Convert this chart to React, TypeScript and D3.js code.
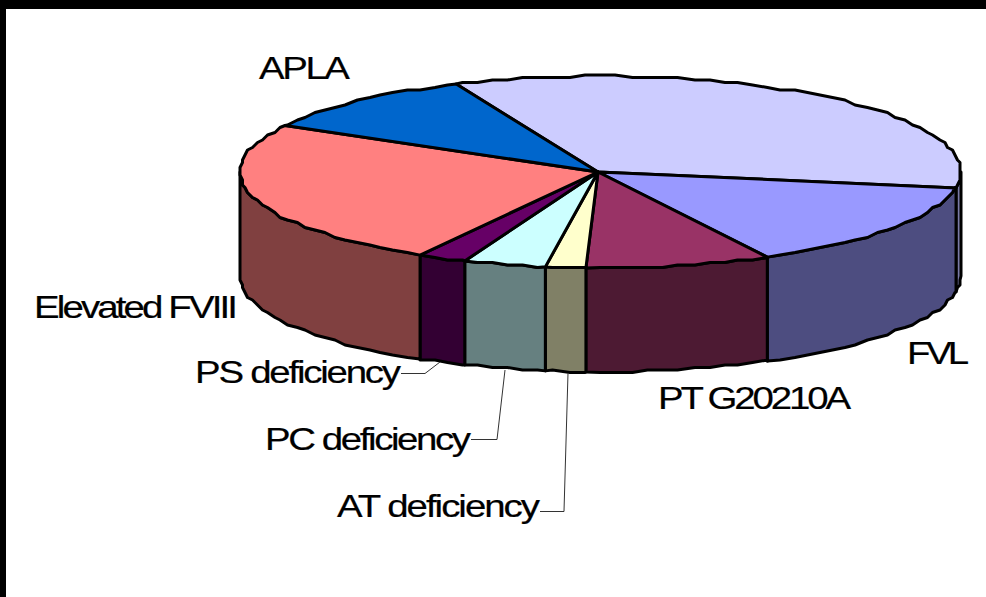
import React from "react";
import * as d3 from "d3";

const categories = ["", "FVL", "PT G20210A", "AT deficiency", "PC deficiency", "PS deficiency", "Elevated FVIII", "APLA"];
const values = [34.2, 14.7, 8.3, 1.8, 3.7, 2.2, 24.7, 10.4];
const topColors = ["#CCCCFF", "#9999FF", "#993366", "#FFFFCC", "#CCFFFF", "#660066", "#FF8080", "#0066CC"];
const sideColors = ["#7A7AA6", "#4D4D80", "#4D1A33", "#808066", "#668080", "#330033", "#804040", "#003366"];

const W = 986, H = 597;
const cx = 600.5, cy = 172, rx = 360.5, ry = 96, depth = 104;
const apexX = 598;
const START = (336.4 * Math.PI) / 180;
const STEP = (2.5 * Math.PI) / 180;
const GRID = 2.5;
const STRETCH = 1.2;

const labelLayout: Record<string, [number, number, number]> = {
  "APLA": [259, 79, 91],
  "Elevated FVIII": [34, 318, 204],
  "FVL": [907, 364, 62],
  "PT G20210A": [658, 409, 193],
  "PS deficiency": [195, 383, 206],
  "PC deficiency": [265, 450, 206],
  "AT deficiency": [337, 517, 203],
};
const leaders: Record<string, [number, number][]> = {
  "PS deficiency": [[401, 373.5], [425, 373.5], [440, 362]],
  "PC deficiency": [[471, 439.5], [497, 439.5], [505, 370]],
  "AT deficiency": [[540, 511.5], [564, 511.5], [568, 373]],
};

const pt = (t: number, dy = 0): [number, number] => [cx + rx * Math.sin(t), cy - ry * Math.cos(t) + dy];
const snap = (v: number) => Math.round(v / GRID) * GRID;
const line = d3.line<[number, number]>();
// Rim between two angles, on the coarse pixel grid that gives the outline its stepped look
const sample = (a: number, b: number, dy = 0): [number, number][] => {
  const lo = Math.min(a, b), hi = Math.max(a, b);
  const inner = d3.range(Math.ceil(lo / STEP + 1e-6), Math.floor(hi / STEP - 1e-6) + 1).map((k) => {
    const [x, y] = pt(k * STEP, dy);
    return [snap(x), snap(y)] as [number, number];
  });
  const pts = [pt(lo, dy), ...inner, pt(hi, dy)];
  return a <= b ? pts : pts.reverse();
};

export default function App() {
  const arcs = d3.pie<number>().sort(null).startAngle(START).endAngle(START + 2 * Math.PI)(values);
  const ordered = arcs.map((a, i) => ({ a, i }));
  const sides = ordered
    .map(({ a, i }) => {
      const lo = Math.PI / 2, hi = (3 * Math.PI) / 2;
      let s = a.startAngle, e = a.endAngle;
      if (s >= 2 * Math.PI) { s -= 2 * Math.PI; e -= 2 * Math.PI; }
      if (e > 2 * Math.PI && s > hi) { s -= 2 * Math.PI; e -= 2 * Math.PI; }
      const vs = Math.max(s, lo), ve = Math.min(e, hi);
      if (ve <= vs) return null;
      return { i, d: (line([...sample(vs, ve), ...sample(ve, vs, depth)]) as string) + "Z" };
    })
    .filter(Boolean) as { i: number; d: string }[];

  return (
    <svg width={W} height={H} viewBox={`0 0 ${W} ${H}`}
      style={{ position: "fixed", left: 0, top: 0, display: "block", background: "#fff" }}>
      <rect x={0} y={0} width={W} height={9} fill="#000" />
      <rect x={0} y={0} width={6} height={H} fill="#000" />
      <g stroke="#000" strokeWidth={3} strokeLinejoin="round">
        {sides.map((s) => <path key={s.i} d={s.d} fill={sideColors[s.i]} />)}
        {ordered.map(({ a, i }) => {
          const d = (line([[apexX, cy], ...sample(a.startAngle, a.endAngle)]) as string) + "Z";
          return <path key={i} d={d} fill={topColors[i]} />;
        })}
      </g>
      <g fill="none" stroke="#333" strokeWidth={1}>
        {Object.entries(leaders).map(([k, p]) => <path key={k} d={line(p) as string} />)}
      </g>
      <g fontFamily="'Liberation Sans', Arial, sans-serif" fontSize={32} fill="#000" stroke="#000" strokeWidth={0.2}>
        {categories.filter((c) => c).map((c) => {
          const [x, y, w] = labelLayout[c];
          return (
            <text key={c} transform={`translate(${x},${y}) scale(${STRETCH},1)`}
              textLength={w / STRETCH} lengthAdjust="spacing">{c}</text>
          );
        })}
      </g>
    </svg>
  );
}
